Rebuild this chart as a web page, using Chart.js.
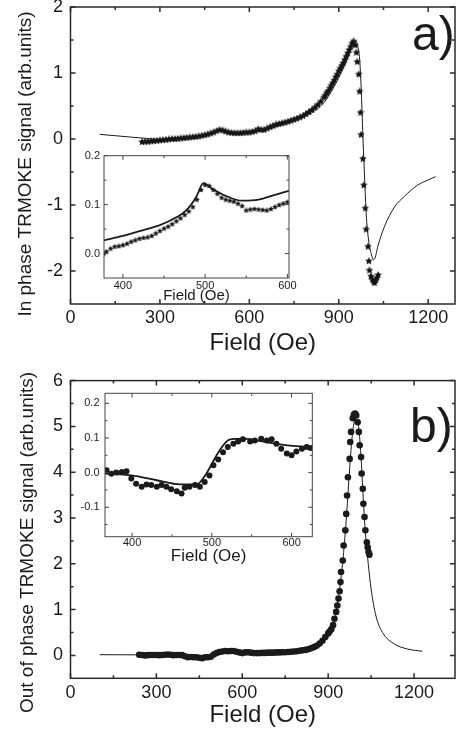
<!DOCTYPE html>
<html>
<head>
<meta charset="utf-8">
<script src="https://cdn.jsdelivr.net/npm/chart.js@4.4.0/dist/chart.umd.min.js"></script>
<style>
  html, body { margin: 0; padding: 0; background: #fff; overflow: hidden; }
  body { width: 459px; height: 731px; position: relative; }
  canvas { position: absolute; }
  #mainA { left: 0; top: 0; }
  #insetA { left: 70px; top: 148px; }
  #mainB { left: 0; top: 360px; }
  #insetB { left: 70px; top: 386px; }
</style>
</head>
<body>
<canvas id="mainA" width="459" height="355"></canvas>
<canvas id="insetA" width="232" height="160"></canvas>
<canvas id="mainB" width="459" height="371"></canvas>
<canvas id="insetB" width="255" height="180"></canvas>
<script>
// Panel a) in-phase signal: measured points (stars) and fit (line)
const aStarField = [240, 250, 260, 270, 280, 290, 300, 310, 320, 330, 340, 350, 360, 370, 380, 390,
  400, 410, 420, 430, 440, 450, 460, 470, 480, 490, 500, 510, 520, 530, 540, 550, 560, 570, 580, 590,
  600, 610, 620, 630, 640, 650, 660, 670, 680, 690, 700, 710, 720, 730, 740, 750, 760, 770, 780, 790,
  800, 810, 820, 830, 840, 850, 855, 860, 865, 870, 875, 880, 885, 890, 895, 900, 905, 910, 915, 920,
  925, 930, 935, 940, 945, 950, 955, 959, 962, 967, 970, 973, 975, 981, 984, 989, 992, 998, 1001,
  1003, 1008, 1013, 1017, 1020, 1024, 1028, 1032];
const aStarSignal = [-0.045, -0.04, -0.04, -0.035, -0.03, -0.025, -0.02, -0.015, -0.01, -0.005, 0, 0,
  0.005, 0.01, 0.015, 0.02, 0.025, 0.03, 0.035, 0.04, 0.05, 0.06, 0.07, 0.085, 0.1, 0.12, 0.14, 0.13,
  0.115, 0.1, 0.095, 0.09, 0.09, 0.09, 0.095, 0.1, 0.1, 0.11, 0.12, 0.15, 0.14, 0.14, 0.16, 0.18, 0.2,
  0.22, 0.23, 0.24, 0.25, 0.265, 0.28, 0.295, 0.31, 0.33, 0.35, 0.38, 0.41, 0.44, 0.48, 0.52, 0.57,
  0.63, 0.66, 0.7, 0.73, 0.77, 0.81, 0.85, 0.89, 0.94, 0.98, 1.03, 1.07, 1.11, 1.15, 1.2, 1.25, 1.3,
  1.35, 1.4, 1.45, 1.48, 1.42, 1.31, 1.17, 0.98, 0.72, 0.4, 0.065, -0.3, -0.7, -1.05, -1.37, -1.63,
  -1.85, -1.99, -2.08, -2.13, -2.16, -2.18, -2.14, -2.1, -2.06];
const aFitField = [98, 150, 200, 264, 300, 350, 400, 450, 480, 500, 520, 550, 600, 650, 700, 750, 800,
  850, 880, 900, 920, 940, 950, 957, 964, 970, 975, 981, 987, 992, 1000, 1009, 1017, 1022, 1031, 1053,
  1087, 1120, 1164, 1200, 1225];
const aFitSignal = [0.07, 0.05, 0.03, 0.005, -0.005, 0, 0.02, 0.05, 0.08, 0.12, 0.12, 0.1, 0.1, 0.13,
  0.2, 0.27, 0.37, 0.55, 0.76, 0.93, 1.12, 1.35, 1.46, 1.49, 1.4, 1.21, 0.8, 0.04, -0.62, -1.13, -1.53,
  -1.74, -1.83, -1.8, -1.63, -1.33, -1.03, -0.87, -0.7, -0.62, -0.57];

// Inset of panel a)
const aInsetStarField = [377, 380, 385, 390, 395, 400, 405, 410, 415, 420, 425, 430, 435, 440, 445,
  450, 455, 460, 465, 470, 475, 480, 485, 490, 495, 500, 505, 510, 515, 520, 525, 530, 535, 540, 545,
  550, 555, 560, 565, 570, 575, 580, 585, 590, 595, 600];
const aInsetStarSignal = [0, 0.004, 0.01, 0.014, 0.015, 0.017, 0.02, 0.024, 0.027, 0.03, 0.032, 0.033,
  0.036, 0.041, 0.046, 0.051, 0.055, 0.06, 0.066, 0.072, 0.079, 0.086, 0.095, 0.11, 0.13, 0.14, 0.138,
  0.13, 0.122, 0.114, 0.11, 0.108, 0.106, 0.102, 0.097, 0.088, 0.09, 0.091, 0.09, 0.089, 0.088, 0.091,
  0.095, 0.099, 0.102, 0.105];
const aInsetFitField = [377, 400, 425, 445, 465, 477, 489, 498, 509, 525, 545, 565, 585, 602];
const aInsetFitSignal = [0.027, 0.036, 0.048, 0.058, 0.074, 0.088, 0.115, 0.144, 0.132, 0.118, 0.108,
  0.11, 0.12, 0.128];

// Panel b) out-of-phase signal: measured points (dots) and fit (line)
const bDotField = [240, 250, 260, 270, 280, 290, 300, 310, 320, 330, 340, 350, 360, 370, 380, 390,
  400, 410, 420, 430, 440, 450, 460, 470, 480, 490, 500, 510, 520, 530, 540, 550, 560, 570, 580, 590,
  600, 610, 620, 630, 640, 650, 660, 670, 680, 690, 700, 710, 720, 730, 740, 750, 760, 770, 780, 790,
  800, 810, 820, 830, 840, 850, 860, 870, 880, 890, 900, 905, 911, 917, 922, 928, 932, 936, 940, 943,
  945, 951, 954, 960, 963, 966, 969, 975, 977, 980, 986, 990, 994, 998, 1003, 1007, 1010, 1015, 1017,
  1021, 1023, 1027, 1030, 1035, 1038, 1041, 1044];
const bDotSignal = [0.015, 0.01, 0, 0.005, 0.01, 0.01, 0.01, 0.005, 0.01, 0.015, 0.02, 0.015, 0.005,
  0.01, 0.01, 0.005, -0.02, -0.04, -0.035, -0.04, -0.04, -0.05, -0.06, -0.04, -0.04, -0.03, 0.02, 0.05,
  0.075, 0.085, 0.095, 0.09, 0.095, 0.095, 0.08, 0.065, 0.05, 0.065, 0.07, 0.06, 0.05, 0.05, 0.05,
  0.055, 0.055, 0.06, 0.06, 0.06, 0.065, 0.065, 0.07, 0.07, 0.075, 0.08, 0.085, 0.09, 0.1, 0.11, 0.12,
  0.135, 0.155, 0.18, 0.21, 0.26, 0.32, 0.4, 0.48, 0.52, 0.57, 0.66, 0.8, 0.95, 1.09, 1.24, 1.4, 1.6,
  1.82, 2.07, 2.4, 2.73, 3.09, 3.49, 3.89, 4.29, 4.66, 4.88, 5.18, 5.26, 5.28, 5.24, 5.09, 4.88, 4.59,
  4.33, 3.97, 3.64, 3.31, 3.02, 2.73, 2.47, 2.36, 2.26, 2.2];
const bFitField = [102, 200, 300, 400, 430, 466, 481, 493, 506, 522, 540, 575, 626, 700, 760, 800, 840,
  870, 899, 911, 922, 934, 946, 954, 963, 971, 980, 988, 995, 1001, 1008, 1015, 1021, 1027, 1033, 1040,
  1050, 1067, 1090, 1131, 1177, 1229];
const bFitSignal = [0.015, 0.013, 0.01, 0, -0.017, -0.032, -0.034, -0.003, 0.05, 0.09, 0.098, 0.086,
  0.074, 0.08, 0.095, 0.12, 0.17, 0.25, 0.42, 0.55, 0.78, 1.2, 1.75, 2.25, 2.95, 3.7, 4.5, 5.0, 5.15,
  5.15, 4.9, 4.3, 3.6, 2.95, 2.45, 2.0, 1.45, 0.86, 0.5, 0.25, 0.14, 0.09];

// Inset of panel b)
const bInsetDotField = [368, 374, 380, 387, 393, 399, 405, 412, 418, 424, 431, 437, 443, 449, 456, 462,
  466, 472, 479, 485, 491, 497, 502, 508, 514, 520, 527, 533, 539, 548, 554, 562, 569, 575, 581, 587,
  594, 600, 606, 613, 619, 624];
const bInsetDotSignal = [0.007, -0.003, 0, 0.002, 0.004, -0.017, -0.032, -0.041, -0.034, -0.036,
  -0.041, -0.036, -0.041, -0.048, -0.054, -0.06, -0.044, -0.041, -0.036, -0.041, -0.027, -0.008, 0.021,
  0.038, 0.059, 0.074, 0.083, 0.09, 0.096, 0.09, 0.093, 0.098, 0.093, 0.096, 0.083, 0.069, 0.055, 0.05,
  0.061, 0.069, 0.074, 0.071];
const bInsetFitField = [366, 399, 431, 460, 481, 493, 506, 514, 522, 539, 573, 598, 626];
const bInsetFitSignal = [-0.003, -0.008, -0.022, -0.034, -0.034, -0.003, 0.05, 0.078, 0.095, 0.098,
  0.086, 0.078, 0.074];

// Tick values
const mainFieldTicks = [0, 300, 600, 900, 1200];
const mainFieldMinor = [150, 450, 750, 1050];
const aSignalTicks = [-2, -1, 0, 1, 2];
const aSignalMinor = [-1.5, -0.5, 0.5, 1.5];
const bSignalTicks = [0, 1, 2, 3, 4, 5, 6];
const bSignalMinor = [0.5, 1.5, 2.5, 3.5, 4.5, 5.5];
const insetFieldTicks = [400, 500, 600];
const insetFieldMinor = [450, 550];
const aInsetSignalTicks = [0, 0.1, 0.2];
const aInsetSignalMinor = [0.05, 0.15];
const bInsetSignalTicks = [-0.1, 0, 0.1, 0.2];
const bInsetSignalMinor = [-0.15, -0.05, 0.05, 0.15];

const FONT = "'Liberation Sans', Arial, Helvetica, sans-serif";
const INK = '#1b1b1b';

function pts(xs, ys) {
  return xs.map((x, i) => ({ x: x, y: ys[i] }));
}

// small filled five-point star used as marker
function starMarker(size, inner) {
  const c = document.createElement('canvas');
  c.width = size; c.height = size;
  const g = c.getContext('2d');
  const r = size / 2, ri = r * inner;
  g.fillStyle = '#151515';
  g.beginPath();
  for (let i = 0; i < 10; i++) {
    const rad = i % 2 ? ri : r;
    const ang = -Math.PI / 2 + i * Math.PI / 5;
    const px = r + rad * Math.cos(ang), py = r + rad * Math.sin(ang);
    if (i === 0) g.moveTo(px, py); else g.lineTo(px, py);
  }
  g.closePath();
  g.fill();
  return c;
}

function axis(min, max, ticks, fontSize, pad, size, horizontal, fmt, title) {
  const opts = {
    type: 'linear',
    min: min,
    max: max,
    grid: { display: false, drawTicks: false },
    border: { display: false },
    ticks: {
      font: { family: FONT, size: fontSize },
      color: INK,
      padding: pad,
      autoSkip: false,
      maxRotation: 0,
      callback: fmt || (v => String(v))
    },
    afterBuildTicks: s => { s.ticks = ticks.map(v => ({ value: v })); },
    afterFit: s => {
      if (horizontal) s.height = size; else s.width = size;
      s.paddingLeft = 0; s.paddingRight = 0; s.paddingTop = 0; s.paddingBottom = 0;
    }
  };
  if (title) {
    opts.title = {
      display: true,
      text: title.text,
      color: INK,
      font: { family: FONT, size: title.size, lineHeight: 1 },
      padding: { top: 0, bottom: title.pad }
    };
  }
  return opts;
}

// frame with inward ticks on all four sides, plus free text
function framePlugin(cfg) {
  return {
    id: 'frame',
    beforeDraw(chart) {
      const a = chart.chartArea, ctx = chart.ctx;
      if (cfg.fill) {
        ctx.save();
        ctx.fillStyle = cfg.fill;
        ctx.fillRect(a.left, a.top, a.right - a.left, a.bottom - a.top);
        ctx.restore();
      }
    },
    afterDraw(chart) {
      const ctx = chart.ctx, a = chart.chartArea;
      const x = chart.scales.x, y = chart.scales.y;
      ctx.save();
      ctx.strokeStyle = cfg.color;
      ctx.lineWidth = cfg.width;
      ctx.strokeRect(a.left, a.top, a.right - a.left, a.bottom - a.top);
      ctx.beginPath();
      const xMarks = (vals, len) => vals.forEach(v => {
        const p = x.getPixelForValue(v);
        ctx.moveTo(p, a.bottom); ctx.lineTo(p, a.bottom - len);
        ctx.moveTo(p, a.top); ctx.lineTo(p, a.top + len);
      });
      const yMarks = (vals, len) => vals.forEach(v => {
        const p = y.getPixelForValue(v);
        ctx.moveTo(a.left, p); ctx.lineTo(a.left + len, p);
        ctx.moveTo(a.right, p); ctx.lineTo(a.right - len, p);
      });
      xMarks(cfg.xMajor, cfg.major);
      xMarks(cfg.xMinor, cfg.minor);
      yMarks(cfg.yMajor, cfg.major);
      yMarks(cfg.yMinor, cfg.minor);
      ctx.stroke();

      (cfg.texts || []).forEach(t => {
        ctx.save();
        ctx.fillStyle = INK;
        ctx.font = t.size + 'px ' + FONT;
        ctx.translate(t.x, t.y);
        if (t.rotate) ctx.rotate(-Math.PI / 2);
        ctx.textAlign = t.align || 'center';
        ctx.textBaseline = t.baseline || 'middle';
        ctx.fillText(t.text, 0, 0);
        ctx.restore();
      });
      ctx.restore();
    }
  };
}

function fitLine(data, width) {
  return {
    data: data,
    showLine: true,
    borderColor: INK,
    borderWidth: width,
    pointRadius: 0,
    cubicInterpolationMode: 'monotone',
    fill: false
  };
}

function markers(data, style, radius) {
  return {
    data: data,
    showLine: false,
    pointStyle: style,
    pointRadius: radius,
    pointBackgroundColor: '#1a1a1a',
    pointBorderWidth: 0,
    borderColor: '#1a1a1a'
  };
}

function makeChart(id, datasets, scales, padding, plugin) {
  return new Chart(document.getElementById(id), {
    type: 'scatter',
    data: { datasets: datasets },
    options: {
      responsive: false,
      animation: false,
      devicePixelRatio: 1,
      events: [],
      layout: { padding: padding },
      plugins: { legend: { display: false }, tooltip: { enabled: false } },
      scales: scales
    },
    plugins: [plugin]
  });
}

const oneDecimal = v => v.toFixed(1);

// Panel a)
makeChart('mainA',
  [fitLine(pts(aFitField, aFitSignal), 1), markers(pts(aStarField, aStarSignal), starMarker(8, 0.5), 3)],
  {
    x: axis(0, 1290, mainFieldTicks, 18, 3, 51, true, null, { text: 'Field (Oe)', size: 24, pad: 0 }),
    y: axis(-2.5, 2, aSignalTicks, 18, 7.5, 70.5, false)
  },
  { top: 7, right: 1, left: 0, bottom: 0 },
  framePlugin({
    color: '#2a2a2a', width: 1.5, major: 5, minor: 3,
    xMajor: mainFieldTicks, xMinor: mainFieldMinor, yMajor: aSignalTicks, yMinor: aSignalMinor,
    texts: [
      { text: 'In phase TRMOKE signal (arb.units)', x: 26, y: 164, size: 19, rotate: true },
      { text: 'a)', x: 412, y: 50, size: 48, align: 'left', baseline: 'alphabetic' }
    ]
  })
);

makeChart('insetA',
  [fitLine(pts(aInsetFitField, aInsetFitSignal), 1.8), markers(pts(aInsetStarField, aInsetStarSignal), starMarker(6, 0.5), 3)],
  {
    x: axis(377, 602, insetFieldTicks, 11, 1, 30, true, null, { text: 'Field (Oe)', size: 15, pad: 4.5 }),
    y: axis(-0.05, 0.2, aInsetSignalTicks, 11, 4, 34, false, oneDecimal)
  },
  { top: 7.7, right: 13, left: 0, bottom: 0 },
  framePlugin({
    fill: '#ffffff', color: '#444', width: 1, major: 4, minor: 2.5,
    xMajor: insetFieldTicks, xMinor: insetFieldMinor, yMajor: aInsetSignalTicks, yMinor: aInsetSignalMinor
  })
);

// Panel b)
makeChart('mainB',
  [fitLine(pts(bFitField, bFitSignal), 1), markers(pts(bDotField, bDotSignal), 'circle', 3.3)],
  {
    x: axis(0, 1343, mainFieldTicks, 18, 3.9, 52.7, true, null, { text: 'Field (Oe)', size: 24, pad: 4 }),
    y: axis(-0.5, 6, bSignalTicks, 18, 7.5, 70.5, false)
  },
  { top: 20.6, right: 1, left: 0, bottom: 0 },
  framePlugin({
    color: '#2a2a2a', width: 1.5, major: 5, minor: 3,
    xMajor: mainFieldTicks, xMinor: mainFieldMinor, yMajor: bSignalTicks, yMinor: bSignalMinor,
    texts: [
      { text: 'Out of phase TRMOKE signal (arb.units)', x: 28, y: 182.5, size: 19, rotate: true },
      { text: 'b)', x: 410, y: 81.7, size: 48, align: 'left', baseline: 'alphabetic' }
    ]
  })
);

makeChart('insetB',
  [fitLine(pts(bInsetFitField, bInsetFitSignal), 1.8), markers(pts(bInsetDotField, bInsetDotSignal), 'circle', 3)],
  {
    x: axis(366, 626, insetFieldTicks, 11, 0, 29.3, true, null, { text: 'Field (Oe)', size: 17, pad: 1.5 }),
    y: axis(-0.185, 0.229, bInsetSignalTicks, 11, 5.5, 35, false, oneDecimal)
  },
  { top: 7.3, right: 12.7, left: 0, bottom: 0 },
  framePlugin({
    fill: '#ffffff', color: '#444', width: 1, major: 4, minor: 2.5,
    xMajor: insetFieldTicks, xMinor: insetFieldMinor, yMajor: bInsetSignalTicks, yMinor: bInsetSignalMinor
  })
);
</script>
</body>
</html>
